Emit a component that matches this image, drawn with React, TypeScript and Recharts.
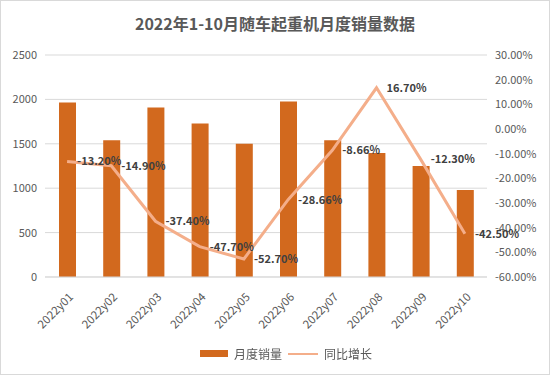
import React from 'react';
import { ComposedChart, Bar, Line, XAxis, YAxis, CartesianGrid, LabelList } from 'recharts';

const months = ['2022y01', '2022y02', '2022y03', '2022y04', '2022y05', '2022y06', '2022y07', '2022y08', '2022y09', '2022y10'];
const sales = [1965, 1540, 1910, 1730, 1500, 1975, 1540, 1395, 1250, 980];
const growth = [-13.2, -14.9, -37.4, -47.7, -52.7, -28.66, -8.66, 16.7, -12.3, -42.5];
const leftTicks = [0, 500, 1000, 1500, 2000, 2500];
const rightTicks = [-60, -50, -40, -30, -20, -10, 0, 10, 20, 30];

const BAR_COLOR = '#D2691E';
const LINE_COLOR = '#F4AE8A';
const TEXT_COLOR = '#595959';
const FONT = '"Noto Sans CJK SC", "Noto Sans", sans-serif';

const chartData = months.map((month, i) => ({
  month,
  sales: sales[i],
  growth: growth[i],
}));

// rotated category labels
const RotatedTick = ({ x, y, payload }: any) => (
  <g transform={`translate(${x + 4},${y + 10})`}>
    <text
      transform="rotate(-45)"
      textAnchor="end"
      dy={4}
      fontSize={11.5}
      fill={TEXT_COLOR}
      fontFamily={FONT}
    >
      {payload.value}
    </text>
  </g>
);

const Legend = () => (
  <div
    style={{
      position: 'absolute',
      top: 344,
      left: 0,
      width: 550,
      display: 'flex',
      justifyContent: 'center',
      alignItems: 'center',
      fontFamily: FONT,
      fontSize: 12,
      color: TEXT_COLOR,
      paddingLeft: 20,
      boxSizing: 'border-box',
    }}
  >
    <span style={{ display: 'inline-block', width: 28, height: 7, background: BAR_COLOR, marginRight: 6 }} />
    <span>月度销量</span>
    <span style={{ display: 'inline-block', width: 30, height: 2, background: LINE_COLOR, margin: '0 6px' }} />
    <span>同比增长</span>
  </div>
);

export default function App() {
  return (
    <div
      style={{
        position: 'fixed',
        left: 0,
        top: 0,
        width: 548,
        height: 373,
        background: '#fff',
        border: '1px solid #D9D9D9',
      }}
    >
      <div
        style={{
          position: 'absolute',
          top: 10,
          left: 0,
          width: 548,
          textAlign: 'center',
          fontFamily: FONT,
          fontWeight: 'bold',
          fontSize: 16,
          color: TEXT_COLOR,
        }}
      >
        2022年1-10月随车起重机月度销量数据
      </div>
      <div style={{ position: 'absolute', left: -1, top: -1 }}>
        <ComposedChart
          width={550}
          height={375}
          data={chartData}
          margin={{ top: 55, right: 5, bottom: 38, left: 3 }}
        >
          <CartesianGrid vertical={false} stroke="#D9D9D9" yAxisId="left" />
          <XAxis
            dataKey="month"
            axisLine={{ stroke: '#D9D9D9' }}
            tickLine={false}
            interval={0}
            tick={<RotatedTick />}
            height={60}
          />
          <YAxis
            yAxisId="left"
            domain={[0, 2500]}
            ticks={leftTicks}
            axisLine={false}
            tickLine={false}
            width={42}
            tick={{ fontSize: 11, fill: TEXT_COLOR, fontFamily: FONT }}
          />
          <YAxis
            yAxisId="right"
            orientation="right"
            domain={[-60, 30]}
            ticks={rightTicks}
            axisLine={false}
            tickLine={false}
            width={58}
            tickFormatter={(v: number) => `${v.toFixed(2)}%`}
            tick={{ fontSize: 11, fill: TEXT_COLOR, fontFamily: FONT }}
          />
          <Bar yAxisId="left" dataKey="sales" fill={BAR_COLOR} barSize={17} isAnimationActive={false} />
          <Line
            yAxisId="right"
            type="linear"
            dataKey="growth"
            stroke={LINE_COLOR}
            strokeWidth={3}
            dot={false}
            isAnimationActive={false}
          >
            <LabelList
              dataKey="growth"
              position="right"
              offset={10}
              formatter={(v: number) => `${v.toFixed(2)}%`}
              style={{ fontSize: 11, fill: '#404040', fontFamily: FONT, fontWeight: 600 }}
            />
          </Line>
        </ComposedChart>
      </div>
      <Legend />
    </div>
  );
}
